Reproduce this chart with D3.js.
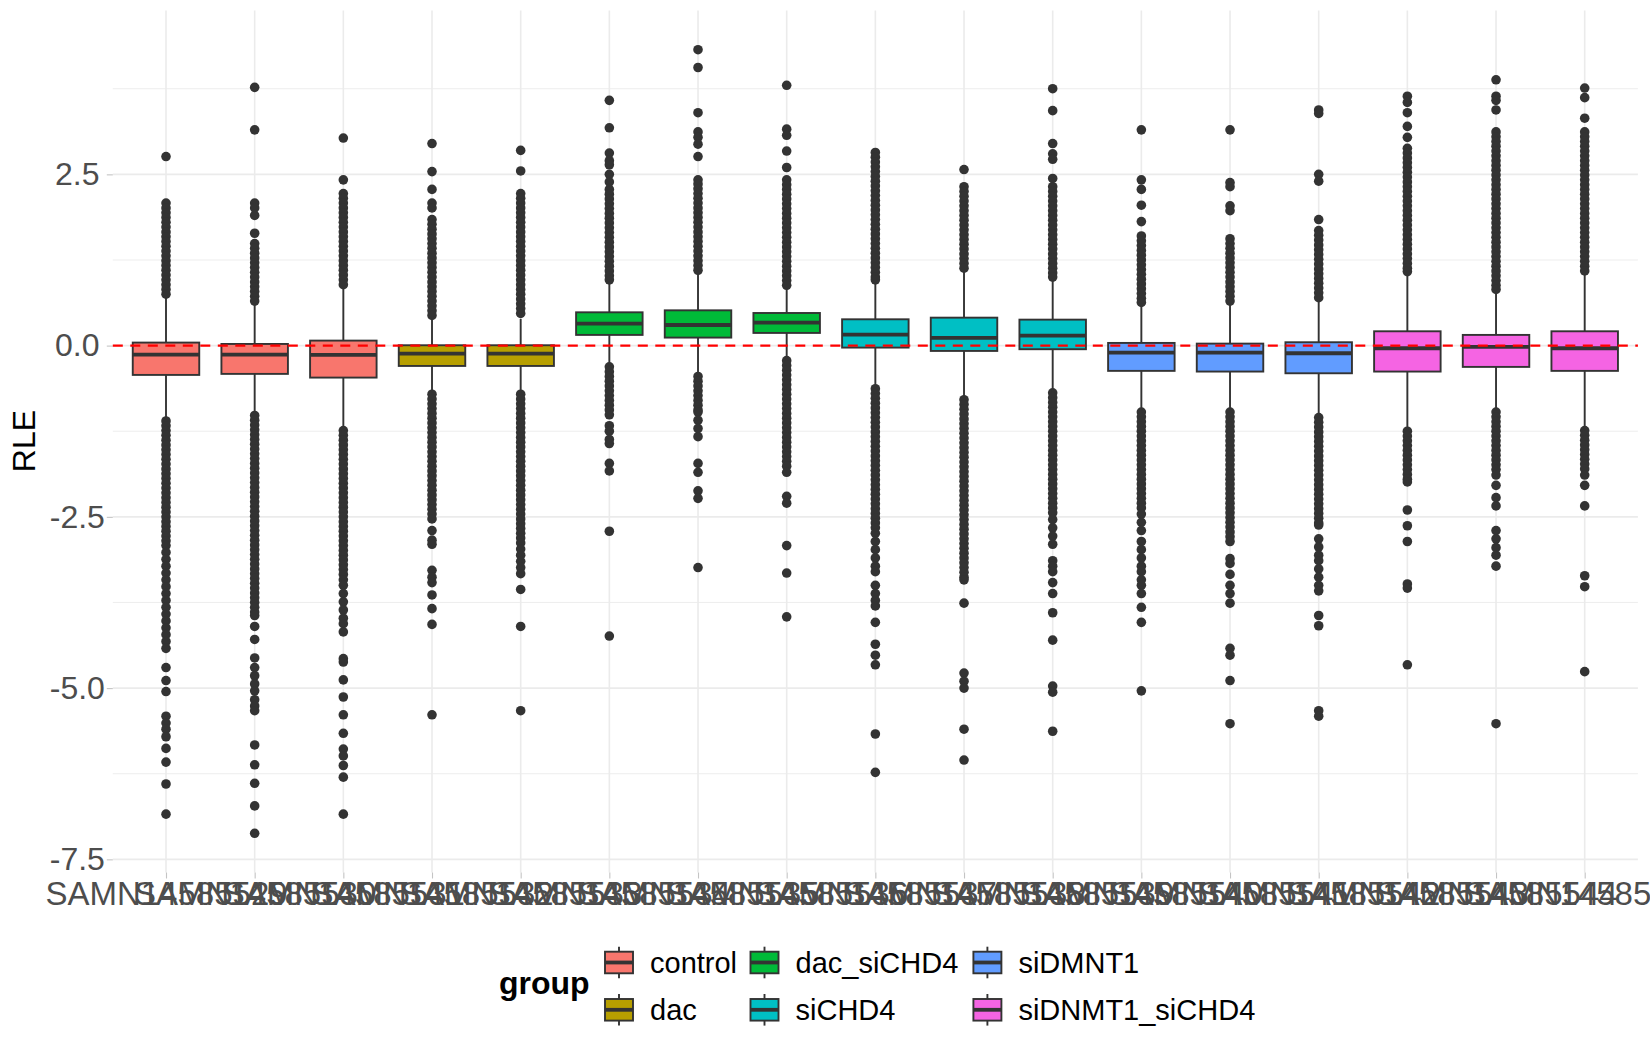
<!DOCTYPE html>
<html><head><meta charset="utf-8">
<script src="https://cdn.jsdelivr.net/npm/d3@7"></script>
<style>body{margin:0;background:#fff} text{font-family:"Liberation Sans",Arial,Helvetica,sans-serif}</style>
</head><body><svg id="c" width="1650" height="1050"></svg>
<script>
const samples = ["SAMN14585529","SAMN14585530","SAMN14585531","SAMN14585532","SAMN14585533","SAMN14585534","SAMN14585535","SAMN14585536","SAMN14585537","SAMN14585538","SAMN14585539","SAMN14585540","SAMN14585541","SAMN14585542","SAMN14585543","SAMN14585544","SAMN14585545"];
const sampleGroup = ["control","control","control","dac","dac","dac_siCHD4","dac_siCHD4","dac_siCHD4","siCHD4","siCHD4","siCHD4","siDMNT1","siDMNT1","siDMNT1","siDNMT1_siCHD4","siDNMT1_siCHD4","siDNMT1_siCHD4"];
const groupNames = ["control","dac","dac_siCHD4","siCHD4","siDMNT1","siDNMT1_siCHD4"];
const groupColors = ["#F8766D","#B79F00","#00BA38","#00BFC4","#619CFF","#F564E3"];

const q1  = [-0.428,-0.413,-0.467,-0.297,-0.297,0.156,0.117,0.185,-0.029,-0.078,-0.053,-0.369,-0.379,-0.404,-0.379,-0.311,-0.369];
const med = [-0.131,-0.131,-0.136,-0.117,-0.117,0.321,0.301,0.335,0.160,0.112,0.146,-0.102,-0.102,-0.112,-0.039,-0.019,-0.039];
const q3  = [0.044,0.024,0.073,0.005,0.005,0.486,0.515,0.476,0.384,0.408,0.379,0.039,0.029,0.049,0.209,0.156,0.209];
const whiskerLow  = [-1.08,-1.00,-1.21,-0.69,-0.69,-0.29,-0.43,-0.21,-0.61,-0.77,-0.67,-0.95,-0.95,-1.03,-1.24,-0.95,-1.21];
const whiskerHigh = [0.70,0.61,0.83,0.39,0.39,0.93,1.06,0.85,0.93,1.09,0.98,0.61,0.61,0.67,1.04,0.79,1.04];

const out29 = [2.76,2.08,2.01,1.94,1.87,1.80,1.73,1.66,1.59,1.52,1.45,1.38,1.31,1.24,1.17,1.10,1.03,0.96,0.89,0.82,0.75,
 -1.10,-1.17,-1.24,-1.31,-1.38,-1.45,-1.52,-1.59,-1.66,-1.73,-1.80,-1.87,-1.94,-2.01,-2.08,-2.15,-2.22,-2.29,-2.36,-2.43,-2.50,-2.57,-2.64,-2.71,-2.78,-2.85,-2.92,-3.02,-3.12,-3.22,-3.32,-3.42,-3.52,-3.62,-3.72,-3.82,-3.92,-4.02,-4.12,-4.22,-4.32,-4.42,-4.70,-4.89,-5.05,-5.41,-5.51,-5.60,-5.71,-5.88,-6.08,-6.40,-6.84];
const out30 = [3.77,3.15,2.08,2.01,1.90,1.64,1.49,1.42,1.35,1.28,1.21,1.14,1.07,1.00,0.93,0.86,0.79,0.72,0.65,
 -1.02,-1.09,-1.16,-1.23,-1.30,-1.37,-1.44,-1.51,-1.58,-1.65,-1.72,-1.79,-1.86,-1.93,-2.00,-2.07,-2.14,-2.21,-2.28,-2.35,-2.42,-2.49,-2.56,-2.63,-2.70,-2.77,-2.84,-2.91,-2.98,-3.05,-3.12,-3.19,-3.26,-3.33,-3.40,-3.47,-3.54,-3.61,-3.68,-3.75,-3.82,-3.89,-3.94,-4.10,-4.29,-4.56,-4.70,-4.82,-4.94,-5.04,-5.17,-5.26,-5.33,-5.83,-6.12,-6.39,-6.72,-7.12];
const out31 = [3.03,2.42,2.22,2.15,2.08,2.01,1.94,1.87,1.80,1.73,1.66,1.59,1.52,1.45,1.38,1.31,1.24,1.17,1.10,1.03,0.96,0.89,
 -1.24,-1.31,-1.38,-1.45,-1.52,-1.59,-1.66,-1.73,-1.80,-1.87,-1.94,-2.01,-2.08,-2.15,-2.22,-2.29,-2.36,-2.43,-2.50,-2.57,-2.64,-2.71,-2.78,-2.85,-2.92,-2.99,-3.06,-3.13,-3.20,-3.27,-3.34,-3.42,-3.50,-3.62,-3.74,-3.86,-3.98,-4.06,-4.18,-4.57,-4.62,-4.88,-5.13,-5.39,-5.66,-5.89,-5.99,-6.13,-6.30,-6.84];
const out32 = [2.95,2.54,2.28,2.08,2.01,1.84,1.77,1.70,1.63,1.56,1.49,1.42,1.35,1.28,1.21,1.14,1.07,1.00,0.93,0.86,0.79,0.72,0.65,0.58,0.51,0.44,
 -0.71,-0.78,-0.85,-0.92,-0.99,-1.06,-1.13,-1.20,-1.27,-1.34,-1.41,-1.48,-1.55,-1.62,-1.69,-1.76,-1.83,-1.90,-1.97,-2.04,-2.11,-2.18,-2.25,-2.32,-2.39,-2.46,-2.53,-2.70,-2.84,-2.90,-3.28,-3.38,-3.46,-3.64,-3.84,-4.07,-5.39];
const out33 = [2.85,2.55,2.22,2.15,2.08,2.01,1.94,1.87,1.80,1.73,1.66,1.59,1.52,1.45,1.38,1.31,1.24,1.17,1.10,1.03,0.96,0.89,0.82,0.75,0.68,0.61,0.54,0.47,
 -0.71,-0.78,-0.85,-0.92,-0.99,-1.06,-1.13,-1.20,-1.27,-1.34,-1.41,-1.48,-1.55,-1.62,-1.69,-1.76,-1.83,-1.90,-1.97,-2.04,-2.11,-2.18,-2.25,-2.32,-2.39,-2.46,-2.53,-2.60,-2.67,-2.74,-2.81,-2.88,-2.97,-3.06,-3.15,-3.24,-3.33,-3.56,-4.10,-5.33];
const out34 = [3.58,3.18,2.81,2.70,2.64,2.50,2.39,2.28,2.21,2.14,2.07,2.00,1.93,1.86,1.79,1.72,1.65,1.58,1.51,1.44,1.37,1.30,1.23,1.16,1.09,1.02,0.96,
 -0.31,-0.38,-0.45,-0.52,-0.59,-0.66,-0.73,-0.80,-0.87,-0.94,-1.01,-1.17,-1.25,-1.37,-1.43,-1.72,-1.83,-2.71,-4.24];
const out35 = [4.32,4.06,3.40,3.12,3.04,2.94,2.76,2.42,2.36,2.29,2.22,2.15,2.08,2.01,1.94,1.87,1.80,1.73,1.66,1.59,1.52,1.45,1.38,1.31,1.24,1.17,1.10,
 -0.45,-0.52,-0.59,-0.66,-0.73,-0.80,-0.87,-0.94,-0.97,-1.09,-1.21,-1.33,-1.72,-1.85,-2.12,-2.23,-3.24];
const out36 = [3.80,3.16,3.07,2.84,2.60,2.42,2.35,2.28,2.21,2.14,2.07,2.00,1.93,1.86,1.79,1.72,1.65,1.58,1.51,1.44,1.37,1.30,1.23,1.16,1.09,1.02,0.95,0.88,
 -0.22,-0.29,-0.36,-0.43,-0.50,-0.57,-0.64,-0.71,-0.78,-0.85,-0.92,-0.99,-1.06,-1.13,-1.20,-1.27,-1.34,-1.41,-1.48,-1.55,-1.62,-1.69,-1.76,-1.85,-2.20,-2.30,-2.92,-3.32,-3.96];
const out37 = [2.82,2.75,2.68,2.61,2.54,2.47,2.40,2.33,2.26,2.19,2.12,2.05,1.98,1.91,1.84,1.77,1.70,1.63,1.56,1.49,1.42,1.35,1.28,1.21,1.14,1.07,1.00,0.96,
 -0.63,-0.70,-0.77,-0.84,-0.91,-0.98,-1.05,-1.12,-1.19,-1.26,-1.33,-1.40,-1.47,-1.54,-1.61,-1.68,-1.75,-1.82,-1.89,-1.96,-2.03,-2.10,-2.17,-2.24,-2.31,-2.38,-2.45,-2.52,-2.59,-2.66,-2.74,-2.86,-2.98,-3.10,-3.22,-3.30,-3.50,-3.62,-3.72,-3.80,-4.04,-4.36,-4.52,-4.66,-5.67,-6.23];
const out38 = [2.57,2.32,2.25,2.18,2.11,2.04,1.97,1.90,1.83,1.76,1.69,1.62,1.55,1.48,1.41,1.34,1.27,1.20,1.13,
 -0.79,-0.86,-0.93,-1.00,-1.07,-1.14,-1.21,-1.28,-1.35,-1.42,-1.49,-1.56,-1.63,-1.70,-1.77,-1.84,-1.91,-1.98,-2.05,-2.12,-2.19,-2.26,-2.33,-2.40,-2.47,-2.54,-2.61,-2.68,-2.75,-2.82,-2.89,-2.96,-3.03,-3.10,-3.17,-3.24,-3.31,-3.38,-3.42,-3.76,-4.78,-4.90,-5.00,-5.60,-6.05];
const out39 = [3.75,3.43,2.95,2.80,2.72,2.44,2.32,2.25,2.18,2.11,2.04,1.97,1.90,1.83,1.76,1.69,1.62,1.55,1.48,1.41,1.34,1.27,1.20,1.13,1.06,1.00,
 -0.69,-0.76,-0.83,-0.90,-0.97,-1.04,-1.11,-1.18,-1.25,-1.32,-1.39,-1.46,-1.53,-1.60,-1.67,-1.74,-1.81,-1.88,-1.95,-2.02,-2.09,-2.16,-2.23,-2.30,-2.37,-2.44,-2.54,-2.66,-2.78,-2.90,-3.14,-3.22,-3.30,-3.46,-3.62,-3.90,-4.30,-4.97,-5.06,-5.63];
const out40 = [3.15,2.42,2.28,2.05,1.81,1.60,1.53,1.46,1.39,1.32,1.25,1.18,1.11,1.04,0.97,0.90,0.83,0.76,0.69,0.63,
 -0.97,-1.04,-1.11,-1.18,-1.25,-1.32,-1.39,-1.46,-1.53,-1.60,-1.67,-1.74,-1.81,-1.88,-1.95,-2.02,-2.09,-2.16,-2.23,-2.30,-2.37,-2.46,-2.58,-2.70,-2.86,-2.98,-3.10,-3.22,-3.30,-3.42,-3.50,-3.62,-3.82,-4.04,-5.04];
const out41 = [3.15,2.38,2.32,2.04,1.97,1.56,1.49,1.42,1.35,1.28,1.21,1.14,1.07,1.00,0.93,0.86,0.79,0.72,0.65,
 -0.97,-1.04,-1.11,-1.18,-1.25,-1.32,-1.39,-1.46,-1.53,-1.60,-1.67,-1.74,-1.81,-1.88,-1.95,-2.02,-2.09,-2.16,-2.23,-2.30,-2.37,-2.44,-2.51,-2.58,-2.65,-2.72,-2.79,-2.86,-3.11,-3.18,-3.34,-3.50,-3.62,-3.76,-4.42,-4.52,-4.89,-5.52];
const out42 = [3.44,3.39,2.50,2.40,1.84,1.68,1.61,1.54,1.47,1.40,1.33,1.26,1.19,1.12,1.05,0.98,0.91,0.84,0.77,0.70,
 -1.05,-1.12,-1.19,-1.26,-1.33,-1.40,-1.47,-1.54,-1.61,-1.68,-1.75,-1.82,-1.89,-1.96,-2.03,-2.10,-2.17,-2.24,-2.31,-2.38,-2.45,-2.52,-2.59,-2.62,-2.82,-2.94,-3.06,-3.14,-3.26,-3.38,-3.50,-3.58,-3.94,-4.09,-5.33,-5.41];
const out43 = [3.64,3.55,3.40,3.20,3.04,2.88,2.81,2.74,2.67,2.60,2.53,2.46,2.39,2.32,2.25,2.18,2.11,2.04,1.97,1.90,1.83,1.76,1.69,1.62,1.55,1.48,1.41,1.34,1.27,1.20,1.13,1.08,
 -1.25,-1.32,-1.39,-1.46,-1.53,-1.60,-1.67,-1.74,-1.81,-1.88,-1.95,-1.99,-2.40,-2.63,-2.86,-3.48,-3.54,-4.66];
const out44 = [3.88,3.64,3.58,3.44,3.12,3.05,2.98,2.91,2.84,2.77,2.70,2.63,2.56,2.49,2.42,2.35,2.28,2.21,2.14,2.07,2.00,1.93,1.86,1.79,1.72,1.65,1.58,1.51,1.44,1.37,1.30,1.23,1.16,1.09,1.02,0.95,0.88,0.82,
 -0.97,-1.04,-1.11,-1.18,-1.25,-1.32,-1.39,-1.46,-1.53,-1.60,-1.67,-1.74,-1.81,-1.89,-2.04,-2.22,-2.34,-2.70,-2.82,-2.95,-3.06,-3.22,-5.52];
const out45 = [3.76,3.62,3.32,3.12,3.05,2.98,2.91,2.84,2.77,2.70,2.63,2.56,2.49,2.42,2.35,2.28,2.21,2.14,2.07,2.00,1.93,1.86,1.79,1.72,1.65,1.58,1.51,1.44,1.37,1.30,1.23,1.16,1.09,
 -1.24,-1.31,-1.38,-1.45,-1.52,-1.59,-1.66,-1.73,-1.80,-1.89,-2.04,-2.34,-3.36,-3.52,-4.76];
const outliers = [out29,out30,out31,out32,out33,out34,out35,out36,out37,out38,out39,out40,out41,out42,out43,out44,out45];

const yTicks = [-7.5,-5,-2.5,0,2.5];
const yTickLabels = ["-7.5","-5.0","-2.5","0.0","2.5"];
const yMinorTicks = [-6.25,-3.75,-1.25,1.25,3.75];

// ---------- layout ----------
const W = 1650, H = 1050;
const panel = {left: 112.8, right: 1637.9, top: 10.5, bottom: 872.5};
const svg = d3.select("#c");
svg.append("rect").attr("width",W).attr("height",H).attr("fill","#fff");

const x = d3.scalePoint().domain(samples).range([panel.left, panel.right]).padding(0.6);
const all = outliers.flat().concat(whiskerLow, whiskerHigh);
const lo = d3.min(all), hi = d3.max(all), pad = (hi - lo) * 0.05;
const y = d3.scaleLinear().domain([lo - pad, hi + pad]).range([panel.bottom, panel.top]);
const color = d3.scaleOrdinal().domain(groupNames).range(groupColors);

// grid
const grid = svg.append("g");
grid.selectAll(".ymin").data(yMinorTicks).enter().append("line")
  .attr("x1",panel.left).attr("x2",panel.right).attr("y1",d=>y(d)).attr("y2",d=>y(d))
  .attr("stroke","#EBEBEB").attr("stroke-width",0.9);
grid.selectAll(".ymaj").data(yTicks).enter().append("line")
  .attr("x1",panel.left).attr("x2",panel.right).attr("y1",d=>y(d)).attr("y2",d=>y(d))
  .attr("stroke","#EBEBEB").attr("stroke-width",1.6);
grid.selectAll(".xmaj").data(samples).enter().append("line")
  .attr("x1",d=>x(d)).attr("x2",d=>x(d)).attr("y1",panel.top).attr("y2",panel.bottom)
  .attr("stroke","#EBEBEB").attr("stroke-width",1.6);

// axes
const yAxis = svg.append("g").attr("transform",`translate(${panel.left},0)`)
  .call(d3.axisLeft(y).tickValues(yTicks).tickFormat((d,i)=>yTickLabels[i]).tickSize(6));
yAxis.select(".domain").remove();
yAxis.selectAll(".tick line").attr("stroke","#C4C4C4").attr("stroke-width",1.1);
yAxis.selectAll(".tick text").attr("x",-35.5).attr("text-anchor","middle")
  .attr("font-size",32).attr("fill","#4D4D4D").attr("font-family",null);

const xAxis = svg.append("g").attr("transform",`translate(0,${panel.bottom})`)
  .call(d3.axisBottom(x).tickSize(6));
xAxis.select(".domain").remove();
xAxis.selectAll(".tick line").attr("stroke","#C4C4C4").attr("stroke-width",1.1);
xAxis.selectAll(".tick text").attr("font-size",33).attr("fill","#4D4D4D").attr("font-family",null);

svg.append("text").attr("transform","translate(35,441) rotate(-90)")
  .attr("text-anchor","middle").attr("font-size",32).attr("fill","#000").text("RLE");

// boxes
const bw = x.step() * 0.75;
const boxes = svg.append("g").selectAll("g").data(samples).enter().append("g");
boxes.each(function(s, i){
  const gg = d3.select(this), cx = x(s);
  gg.selectAll("circle").data(outliers[i]).enter().append("circle")
    .attr("cx",cx).attr("cy",d=>y(d)).attr("r",4.8).attr("fill","#333333");
  gg.append("line").attr("x1",cx).attr("x2",cx).attr("y1",y(q3[i])).attr("y2",y(whiskerHigh[i]))
    .attr("stroke","#333333").attr("stroke-width",1.9);
  gg.append("line").attr("x1",cx).attr("x2",cx).attr("y1",y(q1[i])).attr("y2",y(whiskerLow[i]))
    .attr("stroke","#333333").attr("stroke-width",1.9);
  gg.append("rect").attr("x",cx-bw/2).attr("y",y(q3[i])).attr("width",bw).attr("height",y(q1[i])-y(q3[i]))
    .attr("fill",color(sampleGroup[i])).attr("stroke","#333333").attr("stroke-width",1.9);
  gg.append("line").attr("x1",cx-bw/2).attr("x2",cx+bw/2).attr("y1",y(med[i])).attr("y2",y(med[i]))
    .attr("stroke","#333333").attr("stroke-width",3.8);
});

// reference line
svg.append("line").attr("x1",panel.left).attr("x2",panel.right).attr("y1",y(0)).attr("y2",y(0))
  .attr("stroke","#FF0000").attr("stroke-width",2.2).attr("stroke-dasharray","10,7.5");

// legend
const legCols = [619, 764.5, 987.4];
const legRows = [962.5, 1009.8];
svg.append("text").attr("x",499).attr("y",993.5).attr("font-size",32).attr("font-weight","bold")
  .attr("fill","#000").text("group");
const leg = svg.append("g").selectAll("g").data(groupNames).enter().append("g")
  .attr("transform",(d,i)=>`translate(${legCols[Math.floor(i/2)]},${legRows[i%2]})`);
const kW = 28, kH = 21.6, kWh = 5;
leg.append("line").attr("x1",0).attr("x2",0).attr("y1",-kH/2-kWh).attr("y2",kH/2+kWh)
  .attr("stroke","#333333").attr("stroke-width",1.9);
leg.append("rect").attr("x",-kW/2).attr("y",-kH/2).attr("width",kW).attr("height",kH)
  .attr("fill",d=>color(d)).attr("stroke","#333333").attr("stroke-width",1.9);
leg.append("line").attr("x1",-kW/2).attr("x2",kW/2).attr("y1",0).attr("y2",0)
  .attr("stroke","#333333").attr("stroke-width",3.8);
leg.append("text").attr("x",31).attr("y",10).attr("font-size",29).attr("fill","#000").text(d=>d);
</script></body></html>
